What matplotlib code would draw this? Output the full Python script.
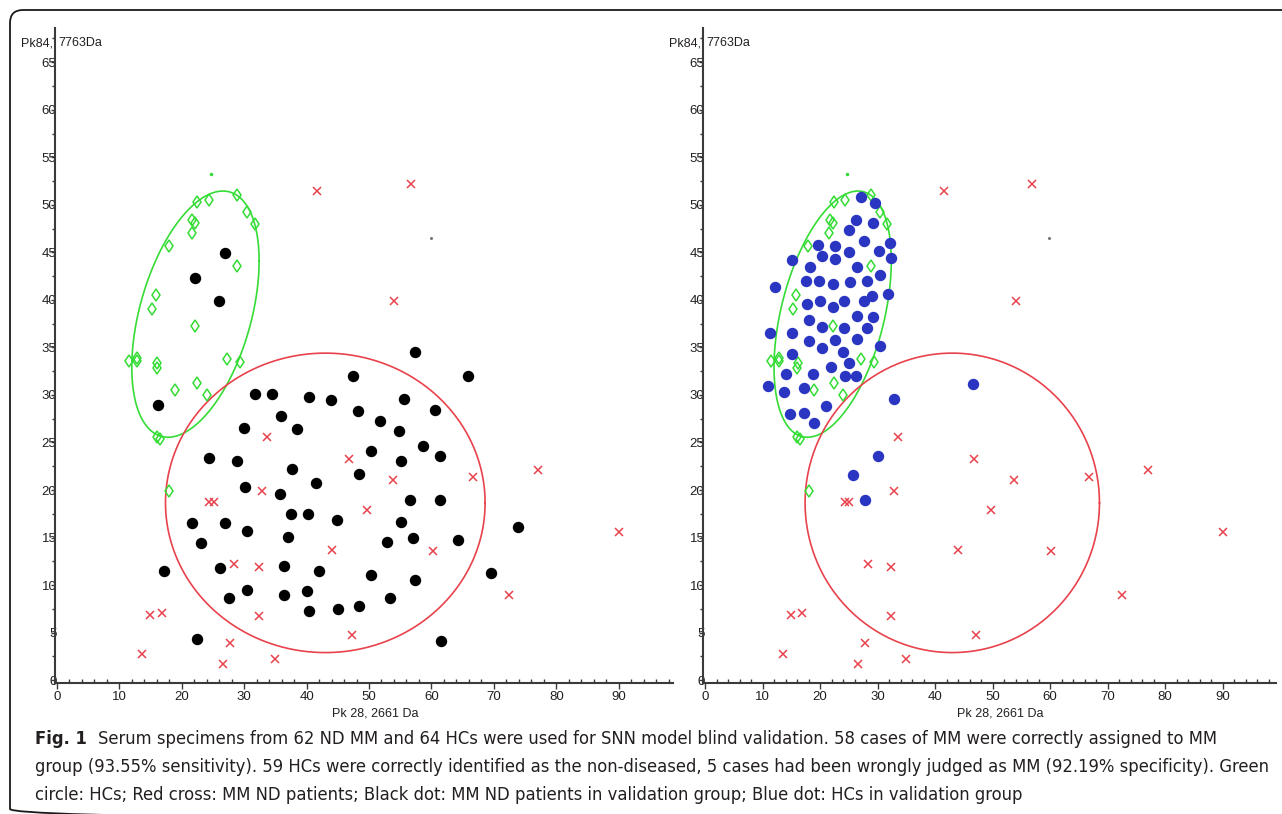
import numpy as np
import matplotlib
matplotlib.use("Agg")
import matplotlib.pyplot as plt
from matplotlib.patches import FancyBboxPatch
from matplotlib.ticker import MultipleLocator

# ========== figure size (pixels) ==========
W, H = 1282, 814
DPI = 100

# ========== data ==========
# green diamonds: HCs (training set) - same in both panels
HC_TRAIN_X = [22.5, 24.4, 28.8, 30.4, 31.7, 21.7, 22.2, 21.6, 17.9, 28.8, 15.9, 15.3, 22.2,
              11.5, 12.8, 12.9, 16.1, 16.0, 27.2, 29.4, 18.9, 22.4, 24.0, 16.0, 16.5, 18.0]
HC_TRAIN_Y = [50.3, 50.5, 51.0, 49.2, 48.0, 48.4, 48.1, 47.0, 45.7, 43.6, 40.5, 39.0, 37.3,
              33.6, 33.9, 33.6, 33.4, 32.8, 33.8, 33.5, 30.5, 31.3, 30.0, 25.6, 25.4, 19.9]

# red crosses: MM ND patients (training set) - same in both panels
MM_TRAIN_X = [41.6, 56.8, 54.0, 33.6, 32.9, 24.3, 25.1, 44.0, 28.3, 32.3, 14.9, 16.9, 32.4,
              13.6, 27.8, 26.6, 35.0, 46.8, 53.8, 66.7, 77.0, 49.7, 60.2, 90.1, 72.5, 47.2]
MM_TRAIN_Y = [51.5, 52.2, 39.9, 25.6, 19.9, 18.7, 18.7, 13.7, 12.2, 11.9, 6.9, 7.1, 6.8,
              2.8, 3.9, 1.7, 2.2, 23.3, 21.1, 21.4, 22.1, 17.9, 13.6, 15.6, 9.0, 4.7]

# black dots: MM ND patients in validation group (left panel)
MM_VALID_X = [26.9, 22.2, 25.9, 16.2, 31.8, 34.5, 40.4, 43.9, 35.9, 30.0, 38.4, 24.4, 28.8,
              37.7, 41.5, 30.1, 35.7, 37.5, 40.3, 44.9, 21.7, 26.9, 30.4, 23.1, 37.1, 17.2,
              26.2, 36.4, 42.0, 30.4, 27.6, 36.4, 40.1, 40.4, 45.0, 22.5,
              57.3, 47.5, 65.9, 55.6, 48.2, 60.6, 51.8, 54.8, 58.7, 50.4, 61.4, 55.2, 48.4,
              56.5, 61.3, 55.1, 73.8, 52.9, 57.1, 64.3, 50.4, 69.6, 57.4, 53.4, 48.4, 61.5]
MM_VALID_Y = [44.9, 42.3, 39.9, 28.9, 30.1, 30.1, 29.8, 29.5, 27.8, 26.5, 26.4, 23.4, 23.1,
              22.2, 20.7, 20.3, 19.6, 17.5, 17.5, 16.8, 16.5, 16.5, 15.7, 14.4, 15.1, 11.5,
              11.8, 12.0, 11.5, 9.5, 8.6, 9.0, 9.4, 7.3, 7.5, 4.3,
              34.5, 32.0, 32.0, 29.6, 28.3, 28.4, 27.3, 26.2, 24.6, 24.1, 23.6, 23.0, 21.7,
              19.0, 18.9, 16.6, 16.1, 14.5, 15.0, 14.7, 11.1, 11.3, 10.5, 8.6, 7.8, 4.1]

# blue dots: HCs in validation group (right panel)
HC_VALID_X = [27.2, 29.5, 26.3, 29.3, 25.1, 32.2, 19.7, 22.6, 27.7, 15.1, 20.3, 22.6, 25.1,
              30.2, 32.4, 18.3, 26.5, 30.5, 17.5, 19.9, 22.2, 25.3, 28.2, 12.1, 31.8, 17.7,
              20.0, 22.2, 24.1, 27.7, 29.1, 18.1, 26.4, 29.3, 20.3, 24.1, 28.2, 11.3, 15.2,
              18.1, 22.6, 26.5, 20.3, 30.5, 15.1, 24.0, 25.1, 21.9, 14.0, 18.7, 24.3, 26.3,
              10.9, 13.8, 17.2, 21.1, 14.7, 17.3, 19.0,
              32.8, 46.6, 30.1, 25.8, 27.9]
HC_VALID_Y = [50.8, 50.2, 48.4, 48.1, 47.3, 46.0, 45.8, 45.7, 46.2, 44.2, 44.6, 44.3, 45.0,
              45.1, 44.4, 43.5, 43.5, 42.6, 42.0, 42.0, 41.7, 41.9, 42.0, 41.4, 40.6, 39.6,
              39.9, 39.3, 39.9, 39.9, 40.4, 37.9, 38.3, 38.2, 37.2, 37.0, 37.0, 36.5, 36.5,
              35.7, 35.8, 35.9, 34.9, 35.2, 34.3, 34.5, 33.4, 32.9, 32.2, 32.2, 32.0, 32.0,
              30.9, 30.3, 30.7, 28.8, 28.0, 28.1, 27.1,
              29.6, 31.2, 23.6, 21.6, 19.0]

# tiny stray dots seen in both panels
STRAY_GREEN = (24.7, 53.2)
STRAY_GREY = (59.9, 46.5)

# class boundaries: centre x, centre y, half width, half height, x shift of the top point
HC_ELLIPSE = (22.2, 38.5, 10.2, 12.95, 4.4)
MM_ELLIPSE = (43.0, 18.65, 25.6, 15.75, 0.0)

X_TICKS = list(range(0, 100, 10))
Y_TICKS = list(range(0, 70, 5))
X_LABEL = "Pk 28, 2661 Da"
Y_LABEL_LEFT = "Pk84,"
Y_LABEL_RIGHT = "7763Da"

CAPTION_BOLD = "Fig. 1"
CAPTION_LINES = [
    "Serum specimens from 62 ND MM and 64 HCs were used for SNN model blind validation. "
    "58 cases of MM were correctly assigned to MM",
    "group (93.55% sensitivity). 59 HCs were correctly identified as the non-diseased, "
    "5 cases had been wrongly judged as MM (92.19% specificity). Green",
    "circle: HCs; Red cross: MM ND patients; Black dot: MM ND patients in validation group; "
    "Blue dot: HCs in validation group",
]

# ========== styles ==========
AXIS_COLOR = "#3a3a3a"
TEXT_COLOR = "#231f20"
GREEN = "#35dc35"
RED = "#e8424c"
BLUE = "#2a36c2"
NARROW = ["Liberation Sans Narrow", "Liberation Sans", "DejaVu Sans"]
CAPTION_FONT = ["DejaVu Sans"]


def ellipse_xy(cx, cy, rx, ry, top_dx, n=400):
    """Tilted ellipse given by its bounding box and where its top point sits."""
    t = np.linspace(0, 2 * np.pi, n)
    k = top_dx * ry / rx
    x = cx + rx * np.cos(t)
    y = cy + k * np.cos(t) + np.sqrt(ry ** 2 - k ** 2) * np.sin(t)
    return x, y


def px_axes(fig, left, top, right, bottom, **kw):
    return fig.add_axes([left / W, 1 - bottom / H, (right - left) / W, (bottom - top) / H], **kw)


def px_text(fig, x, y, s, **kw):
    return fig.text(x / W, 1 - y / H, s, **kw)


def style_axes(ax, xlim):
    ax.set_xlim(*xlim)
    ax.set_ylim(-0.3, 68.6)
    for side in ("top", "right"):
        ax.spines[side].set_visible(False)
    for side in ("left", "bottom"):
        ax.spines[side].set_color(AXIS_COLOR)
        ax.spines[side].set_linewidth(1.5)
    ax.set_xticks(X_TICKS)
    ax.set_yticks(Y_TICKS)
    ax.xaxis.set_minor_locator(MultipleLocator(2))
    ax.yaxis.set_minor_locator(MultipleLocator(2.5))
    ax.tick_params(axis="x", which="major", direction="out", length=4, width=1,
                   color=AXIS_COLOR, pad=2, labelsize=9.5, labelcolor=TEXT_COLOR)
    ax.tick_params(axis="x", which="minor", direction="in", length=3, width=1, color=AXIS_COLOR)
    ax.tick_params(axis="y", which="major", direction="out", length=3, width=1,
                   color=AXIS_COLOR, pad=-4, labelsize=9.5, labelcolor=TEXT_COLOR)
    ax.tick_params(axis="y", which="minor", direction="out", length=2, width=1, color=AXIS_COLOR)
    for lab in ax.get_xticklabels() + ax.get_yticklabels():
        lab.set_family(NARROW)
    ax.patch.set_alpha(0)


def draw_training(ax):
    ax.plot(*ellipse_xy(*HC_ELLIPSE), color=GREEN, lw=1.2, zorder=2)
    ax.plot(*ellipse_xy(*MM_ELLIPSE), color=RED, lw=1.2, zorder=2)
    ax.plot(HC_TRAIN_X, HC_TRAIN_Y, linestyle="none", marker="d", ms=6.5, mfc="none",
            mec=GREEN, mew=1.1, zorder=3)
    ax.plot(MM_TRAIN_X, MM_TRAIN_Y, linestyle="none", marker="x", ms=6, color=RED,
            mew=1.1, zorder=3)
    ax.plot(*STRAY_GREEN, marker="o", ms=1.5, color=GREEN, zorder=3)
    ax.plot(*STRAY_GREY, marker="o", ms=1.2, color="#777777", zorder=3)


def main():
    fig = plt.figure(figsize=(W / DPI, H / DPI), dpi=DPI)

    # rounded frame behind everything, in pixel units
    bg = fig.add_axes([0, 0, 1, 1], zorder=-5)
    bg.set_xlim(0, W)
    bg.set_ylim(H, 0)
    bg.axis("off")
    bg.add_patch(FancyBboxPatch((10, 10), 1320, 812, boxstyle="round,pad=0,rounding_size=13",
                                fill=False, ec="#1a1a1a", lw=1.3))

    # left: MM validation
    ax1 = px_axes(fig, 55, 28, 673, 683)
    draw_training(ax1)
    ax1.plot(MM_VALID_X, MM_VALID_Y, linestyle="none", marker="o", ms=7.2, color="black", zorder=4)
    style_axes(ax1, (-0.3, 98.7))

    # right: HC validation
    ax2 = px_axes(fig, 703, 28, 1276, 683)
    draw_training(ax2)
    ax2.plot(HC_VALID_X, HC_VALID_Y, linestyle="none", marker="o", ms=7.2, color=BLUE, zorder=4)
    style_axes(ax2, (-0.35, 99.3))

    # axis labels
    for axis_x, xlab_x in ((55, 375), (703, 1000)):
        px_text(fig, axis_x - 2, 43, Y_LABEL_LEFT, ha="right", va="center", fontsize=9,
                family=NARROW, color=TEXT_COLOR)
        px_text(fig, axis_x + 3, 43, Y_LABEL_RIGHT, ha="left", va="center", fontsize=9,
                family=NARROW, color=TEXT_COLOR)
        px_text(fig, xlab_x, 714, X_LABEL, ha="center", va="center", fontsize=9,
                family=NARROW, color=TEXT_COLOR)

    # caption, fitted to the width of the widest line
    cap_kw = dict(ha="left", va="center", fontsize=12, family=CAPTION_FONT,
                  fontstretch="condensed", color=TEXT_COLOR)
    bold = px_text(fig, 35, 739, CAPTION_BOLD, fontweight="bold", **cap_kw)
    lines = [px_text(fig, 98, 739, CAPTION_LINES[0], **cap_kw)]
    for i, s in enumerate(CAPTION_LINES[1:]):
        lines.append(px_text(fig, 35, 767 + 28 * i, s, **cap_kw))
    fig.canvas.draw()
    renderer = fig.canvas.get_renderer()
    scale = (1268 - 35) / lines[1].get_window_extent(renderer).width
    for t in [bold] + lines:
        t.set_fontsize(12 * scale)

    fig.savefig("out.png", dpi=DPI)
    plt.close(fig)


if __name__ == "__main__":
    main()
